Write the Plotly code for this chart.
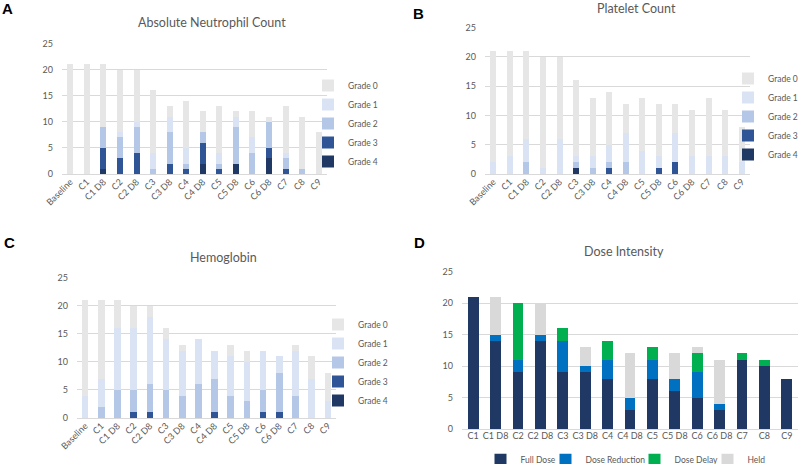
import plotly.graph_objects as go

# ---------------- data ----------------
cats = ["Baseline", "C1", "C1 D8", "C2", "C2 D8", "C3", "C3 D8", "C4", "C4 D8",
        "C5", "C5 D8", "C6", "C6 D8", "C7", "C8", "C9"]

anc_g4 = [0, 0, 1, 0, 0, 0, 0, 0, 2, 0, 2, 0, 3, 0, 0, 0]
anc_g3 = [0, 0, 4, 3, 4, 0, 2, 1, 4, 1, 0, 0, 2, 1, 0, 0]
anc_g2 = [0, 0, 4, 4, 5, 1, 6, 1, 2, 1, 7, 4, 5, 2, 1, 0]
anc_g1 = [0, 0, 0, 1, 1, 3, 3, 3, 0, 2, 2, 3, 0, 1, 0, 0]
anc_g0 = [21, 21, 12, 12, 10, 12, 2, 9, 4, 9, 1, 5, 1, 9, 10, 8]

plt_g4 = [0, 0, 0, 0, 0, 1, 0, 0, 0, 0, 0, 0, 0, 0, 0, 0]
plt_g3 = [0, 0, 0, 0, 0, 0, 0, 1, 0, 0, 1, 2, 0, 0, 0, 0]
plt_g2 = [0, 0, 2, 0, 0, 1, 1, 1, 2, 0, 0, 0, 0, 0, 0, 0]
plt_g1 = [2, 3, 4, 1, 6, 1, 2, 3, 5, 4, 2, 5, 3, 3, 3, 2]
plt_g0 = [19, 18, 15, 19, 14, 13, 10, 9, 5, 9, 9, 5, 8, 10, 8, 6]

hgb_g4 = [0, 0, 0, 0, 0, 0, 0, 0, 0, 0, 0, 0, 0, 0, 0, 0]
hgb_g3 = [0, 0, 0, 1, 1, 0, 0, 0, 1, 0, 0, 1, 1, 0, 0, 0]
hgb_g2 = [0, 2, 5, 4, 5, 5, 4, 6, 6, 4, 3, 4, 7, 4, 0, 0]
hgb_g1 = [4, 5, 11, 11, 12, 9, 8, 8, 5, 7, 7, 7, 3, 8, 7, 3]
hgb_g0 = [17, 14, 5, 4, 2, 2, 1, 0, 0, 2, 2, 0, 0, 1, 4, 5]

dose_cats = ["C1", "C1 D8", "C2", "C2 D8", "C3", "C3 D8", "C4", "C4 D8",
             "C5", "C5 D8", "C6", "C6 D8", "C7", "C8", "C9"]
full_dose = [21, 14, 9, 14, 9, 9, 8, 3, 8, 6, 5, 3, 11, 10, 8]
dose_reduction = [0, 1, 2, 1, 5, 1, 3, 2, 3, 2, 4, 1, 0, 0, 0]
dose_delay = [0, 0, 9, 0, 2, 0, 3, 0, 2, 0, 3, 0, 1, 1, 0]
held = [0, 6, 0, 5, 0, 3, 0, 7, 0, 4, 1, 7, 0, 0, 0]

grade_names = ["Grade 4", "Grade 3", "Grade 2", "Grade 1", "Grade 0"]
grade_colors = ["#1f3864", "#2f5597", "#b4c7e7", "#dae3f3", "#e7e6e6"]
dose_names = ["Full Dose", "Dose Reduction", "Dose Delay", "Held"]
dose_colors = ["#203864", "#0070c0", "#00b050", "#d9d9d9"]
dose_legend_w = [20, 44, 28, 19]

FONT = "Lato"
GREY = "#595959"
GRID = "#d9d9d9"
LEGSIZE = 8.5

fig = go.Figure()

panels = [
    ([anc_g4, anc_g3, anc_g2, anc_g1, anc_g0], "x", "y", "legend", 0.36),
    ([plt_g4, plt_g3, plt_g2, plt_g1, plt_g0], "x2", "y2", "legend2", 0.36),
    ([hgb_g4, hgb_g3, hgb_g2, hgb_g1, hgb_g0], "x3", "y3", "legend3", 0.41),
]
for series, xa, ya, lg, w in panels:
    for vals, name, col in zip(series, grade_names, grade_colors):
        fig.add_trace(go.Bar(x=cats, y=vals, name=name, xaxis=xa, yaxis=ya,
                             legend=lg, width=w, marker_color=col,
                             marker_line_width=0, hoverinfo="x+y+name"))

for vals, name, col, lw in zip([full_dose, dose_reduction, dose_delay, held],
                               dose_names, dose_colors, dose_legend_w):
    fig.add_trace(go.Bar(x=dose_cats, y=vals, name=name, xaxis="x4", yaxis="y4",
                         legend="legend4", legendwidth=lw, width=0.48,
                         marker_color=col, marker_line_width=0))

W, H = 800, 464


def dx(a, b):
    return [a / W, b / W]


def dy(top, bottom):
    return [1 - bottom / H, 1 - top / H]


def xax(domain, anchor, angle, n, size=9):
    return dict(domain=domain, anchor=anchor, type="category", showgrid=False,
                range=[-0.5, n - 0.5],
                showline=False, zeroline=False, ticks="", tickangle=angle,
                tickfont=dict(family=FONT, size=size, color=GREY))


def yax(domain, anchor):
    return dict(domain=domain, anchor=anchor, range=[0, 25.08], tickvals=[0, 5, 10, 15, 20, 25],
                showgrid=True, gridcolor=GRID, gridwidth=1, zeroline=True,
                zerolinecolor=GRID, zerolinewidth=1, showline=False, ticks="",
                ticklabelstandoff=8,
                tickfont=dict(family=FONT, size=9, color=GREY))


def leg(x, y, orient="v", xanchor="left", yanchor="top", order="reversed"):
    return dict(x=x, y=y, xanchor=xanchor, yanchor=yanchor, orientation=orient,
                traceorder=order, bgcolor="rgba(0,0,0,0)",
                font=dict(family=FONT, size=LEGSIZE, color=GREY),
                itemwidth=30, tracegroupgap=0)


n1, n4 = len(cats), len(dose_cats)
fig.update_layout(
    width=W, height=H, barmode="stack",
    paper_bgcolor="white", plot_bgcolor="white",
    margin=dict(l=0, r=0, t=0, b=0, autoexpand=False),
    xaxis=xax(dx(62, 327), "y", -45, n1),
    yaxis=yax(dy(43, 174), "x"),
    xaxis2=xax(dx(485, 750), "y2", -45, n1),
    yaxis2=yax(dy(27, 174), "x2"),
    xaxis3=xax(dx(77, 336), "y3", -45, n1),
    yaxis3=yax(dy(277, 418), "x3"),
    xaxis4=xax(dx(462, 798), "y4", 0, n4, size=9),
    yaxis4=yax(dy(271, 429), "x4"),
    legend=leg(308 / W, 1 - 71 / H),
    legend2=leg(728 / W, 1 - 64 / H),
    legend3=leg(318 / W, 1 - 310 / H),
    legend4=leg(626 / W, -0.022, orient="h", xanchor="center",
                yanchor="bottom", order="normal"),
)

titles = [
    ("Absolute Neutrophil Count", 212, 22),
    ("Platelet Count", 636, 8),
    ("Hemoglobin", 223, 257),
    ("Dose Intensity", 624, 251),
]
for t, x, y in titles:
    fig.add_annotation(text=t, x=x / W, y=1 - y / H, xref="paper", yref="paper",
                       showarrow=False, xanchor="center", yanchor="middle",
                       font=dict(family=FONT, size=12.5, color=GREY))

labels = [("A", 7, 8), ("B", 418, 14), ("C", 9, 243), ("D", 419, 242)]
for t, x, y in labels:
    fig.add_annotation(text="<b>%s</b>" % t, x=x / W, y=1 - y / H, xref="paper",
                       yref="paper", showarrow=False, xanchor="center",
                       yanchor="middle",
                       font=dict(family="Liberation Sans", size=15, color="black"))

fig.write_html("out.html", config={"displayModeBar": False},
               post_script="document.body.style.margin='0';")
